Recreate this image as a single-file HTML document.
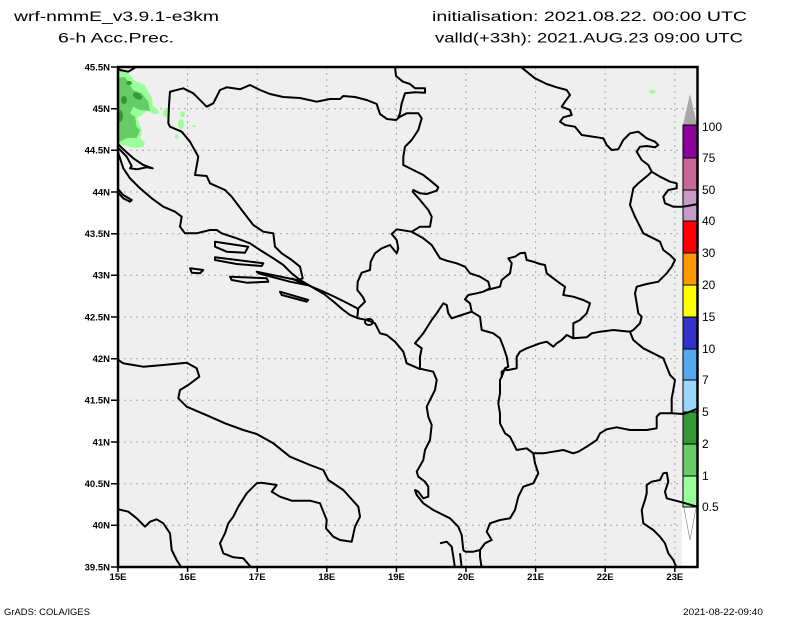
<!DOCTYPE html>
<html><head><meta charset="utf-8"><style>html,body{margin:0;padding:0;background:#fff}svg{display:block}</style></head>
<body>
<svg width="800" height="618" viewBox="0 0 800 618" xmlns="http://www.w3.org/2000/svg">
<rect width="800" height="618" fill="#fff"/>
<defs><clipPath id="mc"><rect x="118" y="67" width="579.5" height="500"/></clipPath></defs>

<!-- titles -->
<g font-family="Liberation Sans, sans-serif" font-size="14" fill="#000">
<text x="14" y="21" textLength="205" lengthAdjust="spacingAndGlyphs">wrf-nmmE_v3.9.1-e3km</text>
<text x="58" y="42.5" textLength="116" lengthAdjust="spacingAndGlyphs">6-h Acc.Prec.</text>
<text x="432" y="21" textLength="315" lengthAdjust="spacingAndGlyphs">initialisation: 2021.08.22.   00:00 UTC</text>
<text x="435" y="42.5" textLength="308" lengthAdjust="spacingAndGlyphs">valld(+33h): 2021.AUG.23 09:00 UTC</text>
</g>

<!-- map bg -->
<rect x="118" y="67" width="579.5" height="500" fill="#efefef"/>

<!-- grid -->
<g stroke="#a8a8a8" stroke-width="1" stroke-dasharray="2,4" fill="none">
<path d="M118 108.7H697M118 150.3H697M118 192H697M118 233.7H697M118 275.3H697M118 317H697M118 358.7H697M118 400.3H697M118 442H697M118 483.7H697M118 525.3H697"/>
<path d="M187.6 67V567M257.2 67V567M326.8 67V567M396.4 67V567M466 67V567M535.6 67V567M605.2 67V567M674.8 67V567"/>
</g>

<!-- precipitation -->
<g clip-path="url(#mc)">
<path fill="#99ff99" d="M117 70 L121 69 L128 73 L135 81 L145 85 L148 91 L152 98 L153 106 L159 111 L158 114 L153 114 L147 110 L142 115 L137 118 L140 125 L142 132 L140 138 L145 143 L143 147 L135 148 L123 145 L117 145 Z"/>
<path fill="#66cc66" d="M117 78 L125 76.7 L133 90 L141.7 93.3 L148.3 101.7 L150 111 L140 110 L133.3 106.7 L130 113.3 L135 116.7 L136.7 126.7 L140 130 L136.7 138 L126.7 138 L120 141.7 L117 141.7 Z"/>
<ellipse cx="137.5" cy="96" rx="5" ry="3" fill="#339933" transform="rotate(30 137.5 96)"/>
<ellipse cx="129" cy="83" rx="3" ry="2" fill="#339933"/>
<ellipse cx="120" cy="116" rx="3" ry="6" fill="#339933"/>
<ellipse cx="124" cy="100" rx="3" ry="4" fill="#339933"/>
<ellipse cx="166" cy="112.7" rx="3" ry="4.5" fill="#99ff99"/>
<ellipse cx="182.7" cy="114.3" rx="2.5" ry="3" fill="#99ff99"/>
<ellipse cx="181" cy="124.3" rx="3" ry="5" fill="#99ff99"/>
<ellipse cx="176.7" cy="136.7" rx="2" ry="2" fill="#99ff99"/>
<ellipse cx="194" cy="126" rx="2" ry="1" fill="#99ff99"/>
<ellipse cx="652.3" cy="91.7" rx="3" ry="2" fill="#99ff99"/>
</g>

<!-- colorbar -->
<g stroke="#000" stroke-width="1">
<path d="M683 125 L690 94 L697 125 Z" fill="#a8a8a8" stroke="none"/>
<rect x="683" y="125" width="14" height="33" fill="#8c009c"/>
<rect x="683" y="158" width="14" height="32" fill="#c8689a"/>
<rect x="683" y="190" width="14" height="31" fill="#c89ac8"/>
<rect x="683" y="221" width="14" height="32" fill="#ff0000"/>
<rect x="683" y="253" width="14" height="32" fill="#ff9900"/>
<rect x="683" y="285" width="14" height="32" fill="#ffff00"/>
<rect x="683" y="317" width="14" height="32" fill="#3333cc"/>
<rect x="683" y="349" width="14" height="31" fill="#55a8f0"/>
<rect x="683" y="380" width="14" height="32" fill="#99d6fa"/>
<rect x="683" y="412" width="14" height="32" fill="#339933"/>
<rect x="683" y="444" width="14" height="32" fill="#66cc66"/>
<rect x="683" y="476" width="14" height="31" fill="#99ff99"/>
</g>
<rect x="682" y="507.5" width="15" height="59.5" fill="#fff"/>
<path d="M684 508 L690 540 L696 508" stroke="#777" stroke-width="0.6" fill="none"/>

<g font-family="Liberation Sans, sans-serif" font-size="12" fill="#000">
<text x="702" y="131">100</text>
<text x="702" y="162">75</text>
<text x="702" y="194">50</text>
<text x="702" y="225">40</text>
<text x="702" y="257">30</text>
<text x="702" y="289">20</text>
<text x="702" y="321">15</text>
<text x="702" y="353">10</text>
<text x="702" y="384">7</text>
<text x="702" y="416">5</text>
<text x="702" y="448">2</text>
<text x="702" y="480">1</text>
<text x="702" y="511">0.5</text>
</g>

<!-- map lines -->
<g clip-path="url(#mc)" stroke="#000" stroke-width="2" fill="none" stroke-linejoin="round">
<polyline points="116.7,66 120,70 128.3,71.7 136.7,66.7"/>
<polyline points="291.7,278.3 296.7,280.7 302.7,278.3 300,266.7 291.7,260 281.7,253.3 275,246.7 273.3,233.3 263.3,231.7 253.3,225 241.7,210 231.7,196.7 225,190 210,183.3 206.7,176 195,175 198.3,156.7 190,141.7 181.7,131.7 170,126.7 168.3,123.3 169,105 170,91.7 183.3,88.3 193.3,93.3 206.7,106.7 213.3,103.3 220,90 226.7,87.3 240,89.3 250,85 260,90 270,94 283.3,97 300,98 316.7,101.7 330,99 340,99 343.3,96 355,97 366.7,100 376.7,104 380,114 387,119 396,120 400,116.7 406.7,113.3 418.3,113.3 421.7,118.3 418.3,130 411.7,140 405,146.7 403.3,156.7 403.3,165 413.3,170 423.3,175 431.7,181.7 438.3,187.3 436.7,190.7 426.7,194 420,193.3 413.3,190 412.7,191.7 420,200 428.3,210 431.7,216.7 430,226.7 420,226.7 411.7,231.7 396.7,229.3 391.7,234 396.7,240 398.3,248.3 396.7,253.3 390,245 381.7,248.3 375,253.3 370.7,261.7 370,270 361.7,272.7 357.7,281.7 357.3,290 362.7,296.7 365,301.7 358.3,308.3 357.3,316.7"/>
<polyline points="296.7,280.7 310,286 322,291 335,297 347,303 356.7,308 358.3,310"/>
<polyline points="395,66.7 396,76 403,81.7 410,84 415,88.3 425,88.3 425,92.7 415,92.3 405,93.3 401.7,103.3 400,113.3 398,118"/>
<polyline points="117.3,150 123.3,168.3 130,178.3 140,188.3 151.7,198.3 163.3,206.7 175,211.7 181.7,216.7 180,226.7 185,233.3 196.7,233.3 210,230 216.7,230 221.7,233.3 236.7,238.3 250,243.3 260,250 273.3,258.3 283.3,265 291.7,273.3 300,280 312,287 324,294 334,302 342,309 350,315 358.3,318.3 366.7,320 375,323.3 380,333.3 386.7,335 395,341.7 403.3,351.7 406.7,363.3 418.3,368.3 433.3,371.7 436.7,380 435,390 426.7,406.7 428.3,416.7 431.7,425 430,440 425,450 423.3,460 416.7,471.7 418.3,476.7 425,481.7 428.3,486.7 428.3,496.7 423.3,498.3 418.3,491.7 415,490 416.7,495 423.3,503.3 433.3,510 450,518.3 458.3,526.7 461.7,535 463.3,550 465,551.7"/>
<polygon points="117.3,147 126.7,156.7 131.7,166 130,168.3 136.7,169.3 146.7,167.3 152.7,168.3 143.3,165 133.3,158.3 123.3,149.3 117.3,143.3"/>
<polygon points="117.3,188.3 123.3,195 131.7,200 130,201.7 123.3,198.3 117.3,191.7"/>
<polygon points="215,241.7 248.3,246.7 245,252.7 226.7,251.7 215,246.7"/>
<polygon points="215,257.3 263.3,263.3 261.7,266 236.7,264 215,260"/>
<polygon points="190,268.3 203.3,270 200,273.3 191.7,272.7"/>
<polygon points="230,276.7 266.7,278.3 268.3,281.7 246.7,282.7 231.7,280"/>
<polygon points="256.7,271.7 296.7,280 306.7,285 290,281.7 258.3,273.3"/>
<polygon points="280,291.7 308.3,300 306.7,301.7 281.7,295"/>
<ellipse cx="369" cy="322" rx="4" ry="3"/>
<polyline points="411.7,231.7 423.3,238.3 431.7,245 440,258.3 446.7,260.7 456.7,263.3 465,266.7 470,273.3 480,276.7 488.3,281.7 490,288.3 483.3,291.7 476.7,293.3 468.3,295 465,299.3 470,303.3 471.7,311.7"/>
<polyline points="486.7,290 500,286.7 501.7,280 510,273.3 511.7,263.3 508.3,258.3 515,256.7 520,253.3 525,252.7 526.7,260 533.3,261.7 540,264 545,265 546.7,273.3 553.3,278.3 560,283.3 565,286.7 563.3,295 573.3,296.7 583.3,300 590,303.3 586.7,313.3 580,320 573.3,323.3 573.3,333.3 573.3,338.3 566.7,335 561.7,340 556.7,343.3 553.3,346.7 546.7,341.7 540,343.3 526.7,348.3 520,351.7 516.7,356.7 516.7,368.3 508.3,370 505,370"/>
<polyline points="471.7,311.7 480,316.7 481.7,330 493.3,333.3 500,338.3 503.3,346.7 506.7,356.7 508.3,366.7 505,368.3 501.7,376.7"/>
<polyline points="471.7,311.7 461.7,315 451.7,318.3 448.3,313.3 446.7,305 443.3,303.3 436.7,313.3 431.7,320 423.3,333.3 415,343.3 421.7,348.3 420,356.7 420,370"/>
<polyline points="573.3,338.3 586.7,337.3 591.7,333.3 600,331.7 613.3,330 630,331.7 633.3,340 643.3,348.3 653.3,353.3 663.3,358.3 666.7,366.7 670,375 675,380 673.3,390 671.7,398.3 671.7,413.3"/>
<polyline points="651.7,171.7 648.3,175 638.3,183.3 633.3,188.3 630,205 635,216.7 641.7,230 643.3,233.3 653.3,238.3 660,241.7 663.3,250 670,255 675,260 671.7,266.7 666.7,273.3 658.3,281.7 646.7,284 636.7,286.7 635,293.3 636.7,303.3 638.3,313.3 641.7,316.7 640,323.3 633.3,330 630,331.7"/>
<polyline points="671.7,413.3 660,413.3 656.7,416.7 656.7,428.3 646.7,430 630,430 616.7,427.3 606.7,429.3 600,433.3 596.7,440 586.7,446.7 578.3,451.7 573.3,453.3 563.3,450 553.3,451.7 543.3,453.3 533.3,453.3 526.7,448.3 516.7,450 513.3,443.3 510,436.7 505,433.3 500,423.3 500,413.3 498.3,403.3 500,393.3 500,380 501.7,376.7 501.7,371.7 506.7,368.3"/>
<polyline points="671.7,413.3 683.3,414 690,411.7 698.3,408.3"/>
<polyline points="533.3,453.3 535,463.3 538.3,473.3 533.3,483.3 523.3,486.7 518.3,496.7 515,510 510,518.3 500,520 490,523.3 486.7,531.7 491.7,540 485,543.3 480,550 473.3,551.7 465,551.7"/>
<polyline points="480,550 480,556.7 481.7,568"/>
<polyline points="440,543.3 446.7,541.7 451.7,546.7 453.3,556.7 455,568"/>
<polyline points="460,553.3 461.7,568"/>
<polyline points="520.7,66.7 526.7,71.7 535,78.3 546.7,84 556.7,87.3 566.7,90 570,95 565,101.7 561.7,106.7 570,110 571.7,115 563.3,117.3 560,121.7 565,125 575,126.7 581.7,135 593.3,136.7 603.3,138.3 606.7,145 611.7,150 618.3,149.3 623.3,140 630,133.3 638.3,131.7 646.7,138.3 655,141.7 658.3,145 655,147.3 646.7,146 640,146.7 636.7,151.7 641.7,160 648.3,165 651.7,171.7 660,176.7 670,181.7 676.7,183.3 676.7,188.3 668.3,190 663.3,196.7 665,203.3 673.3,206.7 683.3,206.7 698.3,204"/>
<polyline points="117.3,359.3 123.3,363.3 143.3,366.7 163.3,365 186.7,362.7 196.7,368.3 199.3,376.7 188.3,385 180,390 178.3,398.3 186.7,406.7 210,416.7 225,423.3 243.3,430 256.7,434 273.3,443.3 290,456.7 310,465 323.3,470 328.3,480 343.3,490 358.3,506.7 360,516.7 355,526.7 351.7,541.7 340,540 333.3,536.7 326,528.3 326.7,520 320,503.3 310,500.7 291.7,500.7 280,496.7 271.7,491.7 276.7,485 261.7,482.7 256.7,483.3 246.7,493.3 238.3,506.7 233.3,516.7 228.3,523.3 225,533.3 220,543.3 223.3,553.3 233.3,557.3 243.3,558.3 251.7,568"/>
<polyline points="117.3,509 128.3,511.7 136.7,518.3 145,526.7 150,521.7 156.7,519.3 163.3,523.3 170,533.3 171.7,550 176.7,560 181.7,568"/>
<polyline points="698,507 683.3,502.7 666.7,498.3 665,491.7 668.3,481.7 666.7,472.7 663.3,473.3 660,480 651.7,481.7 646.7,485 646.7,493.3 645,500 641.7,510 643.3,523.3 653.3,530 660,536.7 665,543.3 668.3,553.3 673.3,560 676.7,568"/>
</g>

<!-- frame -->
<rect x="118" y="67" width="579.5" height="500" fill="none" stroke="#000" stroke-width="2.5"/>

<!-- ticks -->
<g stroke="#000" stroke-width="1.5">
<path d="M111 67H118M111 108.7H118M111 150.3H118M111 192H118M111 233.7H118M111 275.3H118M111 317H118M111 358.7H118M111 400.3H118M111 442H118M111 483.7H118M111 525.3H118M111 567H118"/>
<path d="M118 567V572M187.6 567V572M257.2 567V572M326.8 567V572M396.4 567V572M466 567V572M535.6 567V572M605.2 567V572M674.8 567V572"/>
</g>

<g font-family="Liberation Sans, sans-serif" font-size="9.5" font-weight="bold" fill="#000" text-anchor="end">
<text x="110" y="70.5">45.5N</text>
<text x="110" y="112">45N</text>
<text x="110" y="153.5">44.5N</text>
<text x="110" y="195.5">44N</text>
<text x="110" y="237">43.5N</text>
<text x="110" y="278.5">43N</text>
<text x="110" y="320.5">42.5N</text>
<text x="110" y="362">42N</text>
<text x="110" y="403.5">41.5N</text>
<text x="110" y="445.5">41N</text>
<text x="110" y="487">40.5N</text>
<text x="110" y="528.5">40N</text>
<text x="110" y="570.5">39.5N</text>
</g>
<g font-family="Liberation Sans, sans-serif" font-size="9.5" font-weight="bold" fill="#000" text-anchor="middle">
<text x="118" y="580">15E</text>
<text x="187.6" y="580">16E</text>
<text x="257.2" y="580">17E</text>
<text x="326.8" y="580">18E</text>
<text x="396.4" y="580">19E</text>
<text x="466" y="580">20E</text>
<text x="535.6" y="580">21E</text>
<text x="605.2" y="580">22E</text>
<text x="674.8" y="580">23E</text>
</g>

<g font-family="Liberation Sans, sans-serif" font-size="9" fill="#000">
<text x="4" y="615" textLength="86" lengthAdjust="spacingAndGlyphs">GrADS: COLA/IGES</text>
<text x="683" y="615" textLength="80" lengthAdjust="spacingAndGlyphs">2021-08-22-09:40</text>
</g>
</svg>
</body></html>
